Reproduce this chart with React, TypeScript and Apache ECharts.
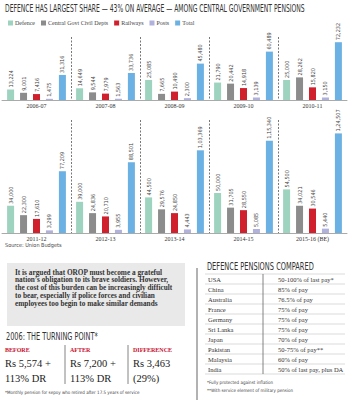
import React, { useEffect, useRef } from "react";
import * as echarts from "echarts";

const yearsTop = ["2006-07", "2007-08", "2008-09", "2009-10", "2010-11"];
const yearsBottom = ["2011-12", "2012-13", "2013-14", "2014-15", "2015-16 (BE)"];
const seriesNames = ["Defence", "Central Govt Civil Depts", "Railways", "Posts", "Total"];
const defence = [13224, 14649, 25085, 21790, 25000, 34000, 39000, 44500, 50000, 54500];
const civil = [9001, 9544, 7665, 20442, 28262, 22300, 24836, 29576, 31705, 34021];
const railways = [7416, 7979, 10490, 14918, 15820, 17610, 20710, 24850, 28550, 30546];
const posts = [1475, 1563, 2300, 3139, 3150, 3299, 3955, 4443, 5085, 5440];
const total = [31316, 33736, 45480, 60489, 72232, 77209, 88501, 103369, 115340, 124507];
const colors = ["#9dd3bf", "#8c8c8c", "#d0202d", "#b0b1dc", "#6cb1e3"];

const countries = ["USA", "China", "Australia", "France", "Germany", "Sri Lanka", "Japan", "Pakistan", "Malaysia", "India"];
const pensions = ["50-100% of last pay*", "85% of pay", "76.5% of pay", "75% of pay", "75% of pay", "75% of pay", "70% of pay", "50-75% of pay**", "60% of pay", "50% of last pay, plus DA"];

const quoteLines = [
  "It is argued that OROP must become a grateful",
  "nation\u2019s obligation to its brave soldiers. However,",
  "the cost of this burden can be increasingly difficult",
  "to bear, especially if police forces and civilian",
  "employees too begin to make similar demands",
];

const turnHeads = ["BEFORE", "AFTER", "DIFFERENCE"];
const turnLine1 = ["Rs 5,574 +", "Rs 7,200 +", "Rs 3,463"];
const turnLine2 = ["113% DR", "113% DR", "(29%)"];

function indian(n: number): string {
  const s = String(Math.round(n));
  if (s.length <= 3) return s;
  const last3 = s.slice(-3);
  let rest = s.slice(0, -3);
  const parts: string[] = [];
  while (rest.length > 2) {
    parts.unshift(rest.slice(-2));
    rest = rest.slice(0, -2);
  }
  if (rest) parts.unshift(rest);
  return parts.join(",") + "," + last3;
}

const NARROW = "'Liberation Sans Narrow', 'DejaVu Sans Condensed', sans-serif";
const SERIF = "'Liberation Serif', serif";

export default function App() {
  const ref = useRef<HTMLDivElement>(null);
  useEffect(() => {
    if (!ref.current) return;
    const chart = echarts.init(ref.current, undefined, { renderer: "svg" });
    const allData = [defence, civil, railways, posts, total];
    const series: any[] = [];
    [0, 1].forEach((g) => {
      seriesNames.forEach((name, i) => {
        series.push({
          type: "bar",
          name,
          xAxisIndex: g,
          yAxisIndex: g,
          data: allData[i].slice(g * 5, g * 5 + 5),
          barWidth: 7,
          barGap: "85%",
          itemStyle: { color: colors[i] },
          label: {
            show: true,
            position: "top",
            rotate: 90,
            align: "left",
            verticalAlign: "middle",
            distance: 2,
            fontSize: 5.5,
            fontFamily: NARROW,
            color: "#444",
            formatter: (p: any) => indian(p.value),
          },
        });
      });
    });

    const xAxisBase = (data: string[], idx: number) => ({
      type: "category",
      gridIndex: idx,
      data,
      axisLine: { show: true, lineStyle: { color: "#aaa", width: 1 } },
      axisTick: { show: false },
      axisLabel: { fontSize: 6, fontFamily: SERIF, color: "#333", margin: 3 },
      splitLine: {
        show: true,
        showMinLine: false,
        showMaxLine: false,
        lineStyle: { color: "#555", width: 0.8, type: [2, 1.5] },
      },
    });

    const graphic: any[] = [];
    graphic.push({
      type: "text",
      x: 5,
      y: 8,
      scaleX: 0.64,
      style: {
        text: "DEFENCE HAS LARGEST SHARE \u2014 43% ON AVERAGE \u2014 AMONG CENTRAL GOVERNMENT PENSIONS",
        fontSize: 10.5,
        fontFamily: NARROW,
        fill: "#333",
        verticalAlign: "middle",
      },
    });
    graphic.push({
      type: "text",
      x: 5,
      y: 245,
      style: { text: "Source: Union Budgets", fontSize: 5.5, fontFamily: NARROW, fill: "#444", verticalAlign: "middle" },
    });
    // quote box
    graphic.push({ type: "rect", shape: { x: 7, y: 263, width: 178, height: 63 }, style: { fill: "#e9e9e9" } });
    quoteLines.forEach((t, i) => {
      graphic.push({
        type: "text",
        x: 15,
        y: 272 + i * 7.8,
        style: { text: t, fontSize: 7.3, fontWeight: "bold", fontFamily: SERIF, fill: "#333", verticalAlign: "middle" },
      });
    });
    // vertical divider
    graphic.push({ type: "line", shape: { x1: 197, y1: 268, x2: 197, y2: 400 }, style: { stroke: "#999", lineWidth: 1.5 } });
    // turning point
    graphic.push({
      type: "text",
      x: 6,
      y: 337,
      scaleX: 0.73,
      style: { text: "2006: THE TURNING POINT*", fontSize: 10, fontFamily: NARROW, fill: "#333", verticalAlign: "middle" },
    });
    const colX = [5, 70, 133];
    turnHeads.forEach((h, i) => {
      graphic.push({
        type: "text",
        x: colX[i],
        y: 350,
        style: { text: h, fontSize: 6, fontWeight: "bold", fontFamily: SERIF, fill: "#c8102e", verticalAlign: "middle" },
      });
      graphic.push({
        type: "text",
        x: colX[i],
        y: 363,
        style: { text: turnLine1[i], fontSize: 10.5, fontFamily: SERIF, fill: "#222", verticalAlign: "middle" },
      });
      graphic.push({
        type: "text",
        x: colX[i],
        y: 378,
        style: { text: turnLine2[i], fontSize: 10.5, fontFamily: SERIF, fill: "#222", verticalAlign: "middle" },
      });
    });
    [65, 128].forEach((x) => {
      graphic.push({ type: "line", shape: { x1: x, y1: 345, x2: x, y2: 384 }, style: { stroke: "#666", lineWidth: 0.8 } });
    });
    graphic.push({
      type: "text",
      x: 5,
      y: 392,
      style: { text: "*Monthly pension for sepoy who retired after 17.5 years of service", fontSize: 4.5, fontFamily: NARROW, fill: "#444", verticalAlign: "middle" },
    });
    // table
    graphic.push({
      type: "text",
      x: 207,
      y: 267,
      scaleX: 0.74,
      style: { text: "DEFENCE PENSIONS COMPARED", fontSize: 10, fontFamily: NARROW, fill: "#333", verticalAlign: "middle" },
    });
    for (let i = 0; i <= countries.length; i++) {
      graphic.push({
        type: "line",
        shape: { x1: 205, y1: 274 + i * 10, x2: 345, y2: 274 + i * 10 },
        style: { stroke: "#c4c4c4", lineWidth: 0.6 },
      });
    }
    graphic.push({ type: "line", shape: { x1: 263, y1: 274, x2: 263, y2: 374 }, style: { stroke: "#666", lineWidth: 0.8 } });
    countries.forEach((c, i) => {
      graphic.push({
        type: "text",
        x: 208,
        y: 279 + i * 10,
        style: { text: c, fontSize: 6.5, fontFamily: SERIF, fill: "#333", verticalAlign: "middle" },
      });
      graphic.push({
        type: "text",
        x: 278,
        y: 279 + i * 10,
        style: { text: pensions[i], fontSize: 6.5, fontFamily: SERIF, fill: "#333", verticalAlign: "middle" },
      });
    });
    graphic.push({
      type: "text",
      x: 207,
      y: 382,
      style: { text: "*Fully protected against inflation", fontSize: 4.5, fontFamily: NARROW, fill: "#444", verticalAlign: "middle" },
    });
    graphic.push({
      type: "text",
      x: 207,
      y: 390,
      style: { text: "**With service element of military pension", fontSize: 4.5, fontFamily: NARROW, fill: "#444", verticalAlign: "middle" },
    });

    chart.setOption({
      animation: false,
      backgroundColor: "#fff",
      legend: {
        data: seriesNames,
        left: 3,
        top: 15,
        icon: "rect",
        itemWidth: 5,
        itemHeight: 5,
        itemGap: 6,
        textStyle: { fontSize: 6, fontFamily: SERIF, color: "#444", padding: [0, 0, 0, -3] },
      },
      grid: [
        { left: 2, right: 3, top: 37, bottom: 300 },
        { left: 2, right: 3, top: 120, bottom: 167 },
      ],
      xAxis: [xAxisBase(yearsTop, 0), xAxisBase(yearsBottom, 1)],
      yAxis: [
        { type: "value", gridIndex: 0, min: 0, max: 78750, show: false, splitLine: { show: false } },
        { type: "value", gridIndex: 1, min: 0, max: 141250, show: false, splitLine: { show: false } },
      ],
      series,
      graphic,
    });
    return () => chart.dispose();
  }, []);
  return <div ref={ref} style={{ position: "absolute", left: 0, top: 0, width: 350, height: 400 }} />;
}
